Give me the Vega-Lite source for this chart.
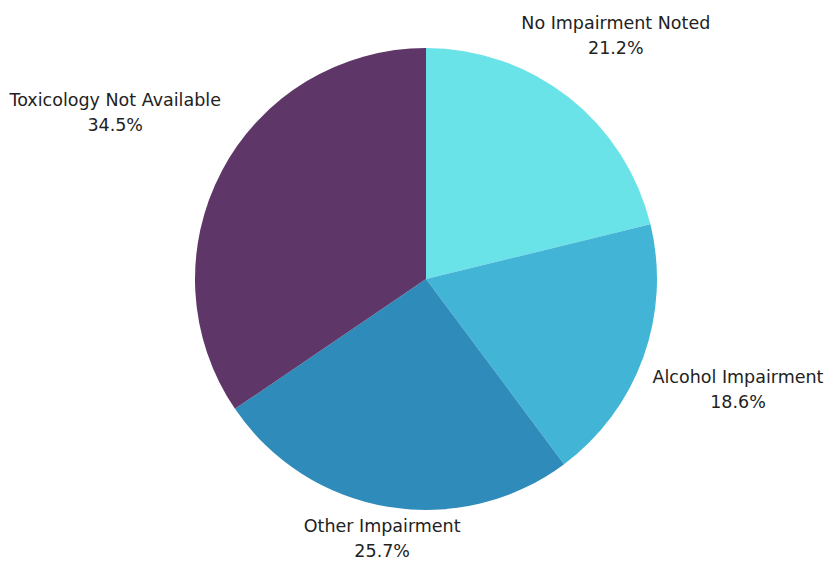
{
  "$schema": "https://vega.github.io/schema/vega-lite/v6.json",
  "width": 814,
  "height": 558,
  "autosize": {"type": "none"},
  "padding": {"left": 19, "right": 0, "top": 0, "bottom": 3},
  "background": "white",
  "data": {
    "values": [
      {"idx": 1, "category": "No Impairment Noted", "value": 21.2},
      {"idx": 2, "category": "Alcohol Impairment", "value": 18.6},
      {"idx": 3, "category": "Other Impairment", "value": 25.7},
      {"idx": 4, "category": "Toxicology Not Available", "value": 34.5}
    ]
  },
  "transform": [
    {"calculate": "datum.category + '\\n' + format(datum.value, '.1f') + '%'", "as": "label"}
  ],
  "encoding": {
    "theta": {"field": "value", "type": "quantitative", "stack": true},
    "order": {"field": "idx", "type": "quantitative"},
    "color": {
      "field": "category",
      "type": "nominal",
      "sort": null,
      "scale": {
        "domain": ["No Impairment Noted", "Alcohol Impairment", "Other Impairment", "Toxicology Not Available"],
        "range": ["#6ae3e8", "#42b5d6", "#2e8bba", "#5e3768"]
      },
      "legend": null
    }
  },
  "layer": [
    {"mark": {"type": "arc", "outerRadius": 231}},
    {
      "mark": {
        "type": "text",
        "radius": {"expr": "252 + 4.7*length(datum.category)*abs(sin((datum.value_start + datum.value_end)/2/100*2*PI))"},
        "align": "center",
        "baseline": "middle",
        "dy": -13,
        "lineBreak": "\n",
        "lineHeight": 25,
        "font": "DejaVu Sans",
        "fontSize": 17.5,
        "fill": "#222222"
      },
      "encoding": {
        "text": {"field": "label", "type": "nominal"},
        "color": {"value": "#222222"}
      }
    }
  ],
  "config": {"view": {"stroke": null}}
}
